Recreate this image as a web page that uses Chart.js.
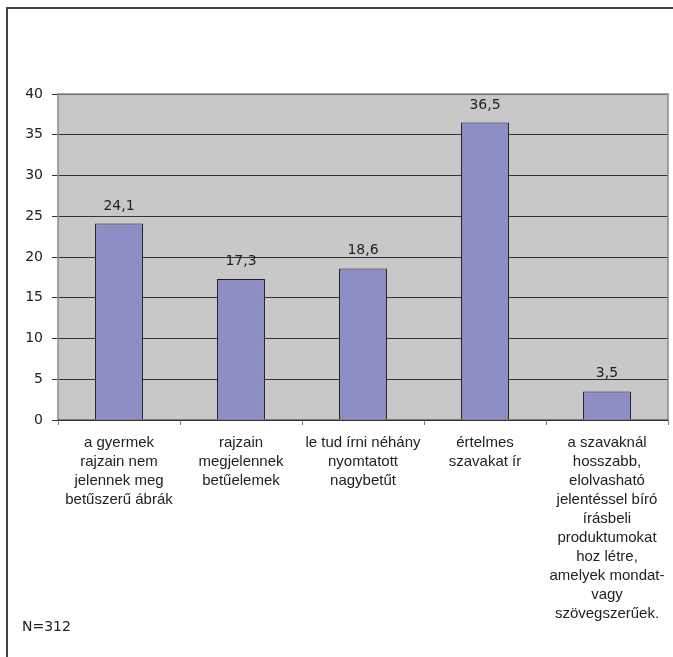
<!DOCTYPE html>
<html>
<head>
<meta charset="utf-8">
<script src="https://cdn.jsdelivr.net/npm/chart.js@4/dist/chart.umd.min.js"></script>
<style>
  html, body { margin: 0; padding: 0; background: #fff; overflow: hidden; }
</style>
</head>
<body>
<canvas id="chart" width="673" height="657"></canvas>
<script>
const categories = [
  ['a gyermek', 'rajzain nem', 'jelennek meg', 'betűszerű ábrák'],
  ['rajzain', 'megjelennek', 'betűelemek'],
  ['le tud írni néhány', 'nyomtatott', 'nagybetűt'],
  ['értelmes', 'szavakat ír'],
  ['a szavaknál', 'hosszabb,', 'elolvasható', 'jelentéssel bíró', 'írásbeli', 'produktumokat', 'hoz létre,', 'amelyek mondat-', 'vagy', 'szövegszerűek.']
];
const values = [24.1, 17.3, 18.6, 36.5, 3.5];
const yTicks = [0, 5, 10, 15, 20, 25, 30, 35, 40];
const note = 'N=312';

const TEXT_FONT = '"Liberation Sans", Arial, sans-serif';
const NUM_FONT = '"DejaVu Sans", Verdana, sans-serif';

// frame, plot background and border
const plotBox = {
  id: 'plotBox',
  beforeDraw(chart) {
    const { ctx, chartArea: a } = chart;
    ctx.save();
    ctx.fillStyle = '#444';
    ctx.fillRect(6, 7, 2, 660);
    ctx.fillRect(6, 7, 680, 2);
    ctx.fillStyle = '#c8c8c8';
    ctx.fillRect(a.left, a.top, a.right - a.left, a.bottom - a.top);
    ctx.restore();
  },
  beforeDatasetsDraw(chart) {
    const { ctx, chartArea: a } = chart;
    ctx.save();
    ctx.strokeStyle = '#8a8a8a';
    ctx.lineWidth = 1.5;
    ctx.beginPath();
    ctx.moveTo(a.left, a.bottom);
    ctx.lineTo(a.left, a.top);
    ctx.lineTo(a.right, a.top);
    ctx.lineTo(a.right, a.bottom);
    ctx.stroke();
    ctx.strokeStyle = '#333';
    ctx.lineWidth = 1;
    ctx.beginPath();
    ctx.moveTo(a.left, a.bottom);
    ctx.lineTo(a.right, a.bottom);
    ctx.stroke();
    ctx.restore();
  }
};

// value labels above bars and the N note
const valueLabels = {
  id: 'valueLabels',
  afterDatasetsDraw(chart) {
    const { ctx } = chart;
    const meta = chart.getDatasetMeta(0);
    ctx.save();
    ctx.font = '14px ' + NUM_FONT;
    ctx.fillStyle = '#222';
    ctx.textAlign = 'center';
    ctx.textBaseline = 'alphabetic';
    meta.data.forEach((bar, i) => {
      ctx.fillText(String(values[i]).replace('.', ','), bar.x, bar.y - 14);
    });
    ctx.textAlign = 'left';
    ctx.fillText(note, 22, 631);
    ctx.restore();
  }
};

new Chart(document.getElementById('chart'), {
  type: 'bar',
  data: {
    labels: categories,
    datasets: [{
      data: values,
      backgroundColor: '#8e8ec6',
      borderColor: '#222',
      borderWidth: 1,
      barPercentage: 0.393,
      categoryPercentage: 1
    }]
  },
  options: {
    responsive: false,
    animation: false,
    layout: { padding: { top: 94, right: 5, left: 0, bottom: 0 } },
    plugins: {
      legend: { display: false },
      tooltip: { enabled: false }
    },
    scales: {
      y: {
        min: 0,
        max: 40,
        afterBuildTicks: (scale) => { scale.ticks = yTicks.map(v => ({ value: v })); },
        afterFit: (scale) => { scale.width = 58; },
        border: { display: false },
        grid: { color: '#333', lineWidth: 1, tickLength: 6 },
        ticks: { color: '#222', padding: 9, font: { family: NUM_FONT, size: 14 } }
      },
      x: {
        afterFit: (scale) => {
          scale.height = 237;
          scale.paddingLeft = 0;
          scale.paddingRight = 0;
        },
        border: { display: false },
        grid: { drawOnChartArea: false, color: '#777', tickLength: 5, offset: true },
        ticks: {
          color: '#222',
          padding: 8,
          maxRotation: 0,
          autoSkip: false,
          font: { family: TEXT_FONT, size: 15, lineHeight: 19 / 15 }
        }
      }
    }
  },
  plugins: [plotBox, valueLabels]
});
</script>
</body>
</html>
